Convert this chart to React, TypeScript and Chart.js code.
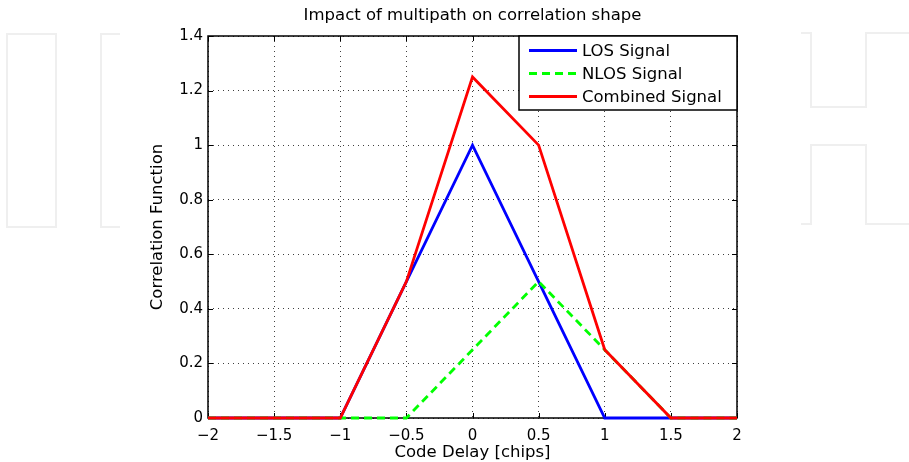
import React, { useEffect, useRef } from 'react';
import { Chart, registerables } from 'chart.js';
Chart.register(...registerables);

const titleText = 'Impact of multipath on correlation shape';
const xTitle = 'Code Delay [chips]';
const yTitle = 'Correlation Function';

const delays = [-2, -1.5, -1, -0.5, 0, 0.5, 1, 1.5, 2];
const losValues = [0, 0, 0, 0.5, 1, 0.5, 0, 0, 0];
const nlosValues = [0, 0, 0, 0, 0.25, 0.5, 0.25, 0, 0];
const combinedValues = [0, 0, 0, 0.5, 1.25, 1, 0.25, 0, 0];

const seriesLabels = ['LOS Signal', 'NLOS Signal', 'Combined Signal'];
const seriesColors = ['#0000ff', '#00ff00', '#ff0000'];

const FONT = "'DejaVu Sans', sans-serif";

const toPoints = (vals: number[]) => delays.map((d, i) => ({ x: d, y: vals[i] }));

const watermarkPlugin = {
  id: 'watermark',
  beforeDraw(chart: any) {
    const ctx = chart.ctx;
    ctx.save();
    ctx.fillStyle = '#ffffff';
    ctx.fillRect(0, 0, chart.width, chart.height);
    ctx.strokeStyle = '#efefef';
    ctx.lineWidth = 2;
    ctx.strokeRect(7, 34, 49, 193);
    ctx.beginPath();
    ctx.moveTo(120, 34);
    ctx.lineTo(101, 34);
    ctx.lineTo(101, 227);
    ctx.lineTo(120, 227);
    ctx.stroke();
    ctx.beginPath();
    ctx.moveTo(801, 33);
    ctx.lineTo(811, 33);
    ctx.lineTo(811, 107);
    ctx.lineTo(866, 107);
    ctx.lineTo(866, 33);
    ctx.lineTo(909, 33);
    ctx.stroke();
    ctx.beginPath();
    ctx.moveTo(801, 224);
    ctx.lineTo(811, 224);
    ctx.lineTo(811, 145);
    ctx.lineTo(866, 145);
    ctx.lineTo(866, 224);
    ctx.lineTo(909, 224);
    ctx.stroke();
    ctx.restore();
  },
};

const framePlugin = {
  id: 'frame',
  beforeDatasetsDraw(chart: any) {
    const { ctx, chartArea: a, scales } = chart;
    ctx.save();
    ctx.strokeStyle = '#000';
    ctx.lineWidth = 1;
    ctx.setLineDash([]);
    const tl = 5;
    ctx.beginPath();
    scales.x.ticks.forEach((t: any) => {
      const px = Math.round(scales.x.getPixelForValue(t.value)) + 0.5;
      ctx.moveTo(px, a.bottom);
      ctx.lineTo(px, a.bottom - tl);
      ctx.moveTo(px, a.top);
      ctx.lineTo(px, a.top + tl);
    });
    scales.y.ticks.forEach((t: any) => {
      const py = Math.round(scales.y.getPixelForValue(t.value)) + 0.5;
      ctx.moveTo(a.left, py);
      ctx.lineTo(a.left + tl, py);
      ctx.moveTo(a.right, py);
      ctx.lineTo(a.right - tl, py);
    });
    ctx.stroke();
    ctx.lineWidth = 1.5;
    ctx.strokeRect(a.left, a.top, a.right - a.left, a.bottom - a.top);
    ctx.restore();
  },
};

const overlayPlugin = {
  id: 'overlay',
  afterDraw(chart: any) {
    const { ctx, chartArea: a } = chart;
    ctx.save();
    // title
    ctx.fillStyle = '#000';
    ctx.font = `16.5px ${FONT}`;
    ctx.textAlign = 'center';
    ctx.textBaseline = 'middle';
    ctx.fillText(titleText, (a.left + a.right) / 2, 16);
    // legend
    const bx = 519, by = a.top, bw = a.right - bx, bh = 74;
    ctx.fillStyle = '#fff';
    ctx.fillRect(bx, by, bw, bh);
    ctx.strokeStyle = '#000';
    ctx.lineWidth = 1.5;
    ctx.strokeRect(bx, by, bw, bh);
    ctx.font = `16.5px ${FONT}`;
    ctx.textAlign = 'left';
    chart.data.datasets.forEach((ds: any, i: number) => {
      const y = by + 14.5 + i * 23;
      ctx.strokeStyle = ds.borderColor;
      ctx.lineWidth = ds.borderWidth;
      ctx.setLineDash(ds.borderDash || []);
      ctx.beginPath();
      ctx.moveTo(bx + 10, y);
      ctx.lineTo(bx + 58, y);
      ctx.stroke();
      ctx.setLineDash([]);
      ctx.fillStyle = '#000';
      ctx.fillText(ds.label, bx + 63, y + 1);
    });
    ctx.restore();
  },
};

export default function App() {
  const ref = useRef<HTMLCanvasElement>(null);
  useEffect(() => {
    document.body.style.margin = '0';
    const canvas = ref.current;
    if (!canvas) return;
    const chart = new Chart(canvas, {
      type: 'line',
      data: {
        datasets: [
          {
            label: seriesLabels[0],
            data: toPoints(losValues),
            borderColor: seriesColors[0],
            borderWidth: 2.8,
            pointRadius: 0,
            order: 3,
          },
          {
            label: seriesLabels[1],
            data: toPoints(nlosValues),
            borderColor: seriesColors[1],
            borderWidth: 2.8,
            borderDash: [8, 5],
            pointRadius: 0,
            order: 2,
          },
          {
            label: seriesLabels[2],
            data: toPoints(combinedValues),
            borderColor: seriesColors[2],
            borderWidth: 2.8,
            pointRadius: 0,
            order: 1,
          },
        ],
      },
      options: {
        animation: false,
        responsive: false,
        clip: false as any,
        layout: { padding: { left: 140, top: 36, right: 172, bottom: 0 } },
        plugins: {
          legend: { display: false },
          title: { display: false },
          tooltip: { enabled: false },
        },
        scales: {
          x: {
            type: 'linear',
            min: -2,
            max: 2,
            afterFit: (s: any) => { s.height = 44; },
            ticks: {
              stepSize: 0.5,
              autoSkip: false,
              maxRotation: 0,
              padding: 9,
              color: '#000',
              font: { family: FONT, size: 15 },
              callback: (v: any) => String(v).replace('-', '\u2212'),
            },
            grid: { color: 'rgba(0,0,0,0.75)', lineWidth: 1, drawTicks: false },
            border: { display: false, dash: [1, 4] },
            title: {
              display: true,
              text: xTitle,
              color: '#000',
              font: { family: FONT, size: 16.5 },
              padding: { top: 0, bottom: -1 },
            },
          },
          y: {
            type: 'linear',
            min: 0,
            max: 1.4,
            afterFit: (s: any) => { s.width = 68; },
            ticks: {
              stepSize: 0.2,
              padding: 5,
              color: '#000',
              font: { family: FONT, size: 15 },
              callback: (v: any) => String(Number(Number(v).toFixed(1))),
            },
            grid: { color: 'rgba(0,0,0,0.75)', lineWidth: 1, drawTicks: false },
            border: { display: false, dash: [1, 4] },
            title: {
              display: true,
              text: yTitle,
              color: '#000',
              font: { family: FONT, size: 16.5 },
              padding: { top: 8, bottom: 0 },
            },
          },
        },
      },
      plugins: [watermarkPlugin, framePlugin, overlayPlugin],
    });
    return () => chart.destroy();
  }, []);
  return (
    <div style={{ width: 909, height: 462 }}>
      <canvas ref={ref} width={909} height={462} />
    </div>
  );
}
